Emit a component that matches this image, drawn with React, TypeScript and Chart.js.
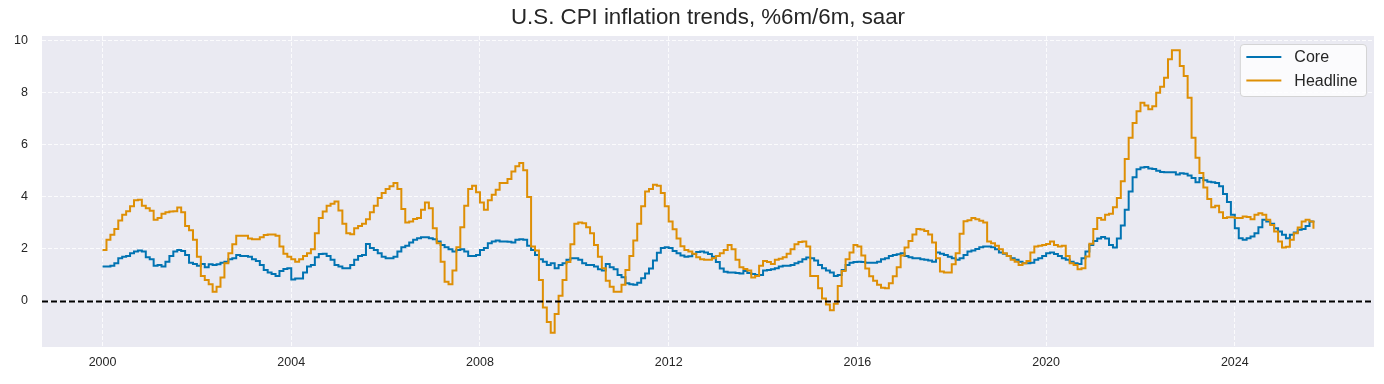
import React, { useEffect, useRef } from "react";
import { Chart, registerables } from "chart.js";

Chart.register(...registerables);

const TITLE = "U.S. CPI inflation trends, %6m/6m, saar";
const SERIES_NAMES = ["Core", "Headline"];
const START_YEAR = 2000; // monthly observations starting Jan 2000
const X_TICKS = [2000, 2004, 2008, 2012, 2016, 2020, 2024];
const Y_TICKS = [0, 2, 4, 6, 8, 10];

const CORE = [
  1.32, 1.32, 1.35, 1.45, 1.64, 1.7, 1.73, 1.83, 1.9, 1.94, 1.9, 1.68,
  1.6, 1.35, 1.38, 1.32, 1.51, 1.73, 1.9, 1.96, 1.92, 1.77, 1.47, 1.42,
  1.35, 1.42, 1.3, 1.41, 1.38, 1.41, 1.47, 1.51, 1.6, 1.64, 1.77, 1.73,
  1.73, 1.7, 1.6, 1.54, 1.38, 1.19, 1.09, 1.04, 0.96, 1.15, 1.23, 1.26,
  0.83, 0.86, 0.86, 1.09, 1.32, 1.38, 1.68, 1.8, 1.81, 1.73, 1.58, 1.38,
  1.32, 1.26, 1.26, 1.38, 1.58, 1.73, 1.77, 2.19, 2.03, 1.96, 1.83, 1.7,
  1.64, 1.64, 1.7, 1.9, 2.06, 2.12, 2.24, 2.35, 2.41, 2.45, 2.45, 2.41,
  2.37, 2.28, 2.15, 2.06, 1.99, 1.9, 1.96, 1.99, 1.9, 1.73, 1.73, 1.77,
  1.96, 2.03, 2.22, 2.28, 2.32, 2.28, 2.28, 2.27, 2.24, 2.35, 2.37, 2.35,
  2.12, 1.96, 1.77, 1.6, 1.51, 1.38, 1.45, 1.26, 1.38, 1.45, 1.58, 1.64,
  1.64, 1.58, 1.45, 1.38, 1.38, 1.32, 1.22, 1.17, 1.42, 1.3, 1.22, 1.0,
  0.91, 0.68, 0.64, 0.62, 0.7, 0.87, 1.06, 1.25, 1.55, 1.85, 2.03, 2.06,
  2.03, 1.92, 1.83, 1.75, 1.7, 1.72, 1.8, 1.88, 1.9, 1.86, 1.8, 1.7,
  1.5, 1.25, 1.12, 1.09, 1.09, 1.08, 1.06, 1.15, 1.08, 1.04, 1.0, 1.0,
  1.17, 1.19, 1.22, 1.26, 1.32, 1.35, 1.35, 1.38, 1.45, 1.51, 1.6, 1.67,
  1.64, 1.55, 1.38, 1.26, 1.17, 1.09, 0.96, 1.0, 1.19, 1.38, 1.47, 1.5,
  1.51, 1.5, 1.47, 1.47, 1.47, 1.51, 1.6, 1.64, 1.73, 1.77, 1.79, 1.83,
  1.73, 1.68, 1.64, 1.64, 1.6, 1.58, 1.55, 1.51, 1.86, 1.81, 1.77, 1.7,
  1.64, 1.58, 1.64, 1.77, 1.9, 1.94, 2.0, 2.06, 2.09, 2.09, 2.06, 1.99,
  1.86, 1.81, 1.73, 1.64, 1.58, 1.51, 1.45, 1.45, 1.47, 1.58, 1.64, 1.73,
  1.83, 1.86, 1.8, 1.73, 1.64, 1.58, 1.51, 1.45, 1.42, 1.64, 1.9, 2.15,
  2.3, 2.4, 2.46, 2.4, 2.15, 2.05, 2.4, 2.9, 3.5, 4.2, 4.75, 5.05,
  5.12, 5.14, 5.08, 5.06, 5.0, 4.95, 4.94, 4.94, 4.94, 4.85, 4.9, 4.88,
  4.81, 4.72, 4.55, 4.72, 4.63, 4.57, 4.55, 4.53, 4.4, 4.1, 3.8, 3.31,
  2.79, 2.41, 2.35, 2.41, 2.47, 2.6, 2.83, 3.12, 3.05, 2.96, 2.79, 2.67,
  2.54, 2.41, 2.54, 2.63, 2.73, 2.76, 2.88, 3.05, 3.08,
];

const HEADLINE = [
  1.96, 2.35, 2.54, 2.76, 3.09, 3.31, 3.44, 3.63, 3.86, 3.88, 3.65, 3.56,
  3.46, 3.12, 3.18, 3.35, 3.4, 3.43, 3.44, 3.59, 3.4, 2.88, 2.71, 2.35,
  1.7, 0.96, 0.81, 0.64, 0.36, 0.55, 0.9, 1.45, 1.83, 2.18, 2.5, 2.5,
  2.5, 2.4, 2.37, 2.37, 2.45, 2.53, 2.55, 2.55, 2.5, 2.09, 1.81, 1.7,
  1.6, 1.51, 1.6, 1.73, 1.83, 1.99, 2.6, 3.18, 3.43, 3.65, 3.73, 3.82,
  3.47, 2.96, 2.6, 2.56, 2.79, 2.88, 2.96, 3.14, 3.4, 3.65, 3.95, 4.14,
  4.3, 4.4, 4.53, 4.3, 3.53, 3.01, 3.05, 3.15, 3.18, 3.5, 3.78, 3.56,
  2.79, 2.22, 1.51, 0.74, 0.64, 1.17, 2.06, 2.83, 3.65, 4.3, 4.42, 4.17,
  3.78, 3.5, 3.86, 4.08, 4.27, 4.53, 4.53, 4.68, 4.97, 5.17, 5.29, 5.01,
  3.99, 2.09, 1.94, 0.81, -0.25, -0.8, -1.22, -0.5, 0.2, 0.81, 1.5, 2.18,
  2.96, 3.01, 2.98, 2.83, 2.6, 2.15, 1.7, 1.26, 0.78, 0.55, 0.36, 0.36,
  0.62, 1.19, 1.73, 2.32, 2.96, 3.63, 4.2, 4.3, 4.46, 4.42, 4.14, 3.63,
  3.05, 2.75, 2.4, 2.1, 1.96, 1.9, 1.81, 1.68, 1.6, 1.58, 1.58, 1.64,
  1.73, 1.83, 1.96, 2.15, 1.99, 1.58, 1.3, 1.23, 1.17, 0.9, 0.96, 1.35,
  1.54, 1.5, 1.42, 1.58, 1.62, 1.68, 1.81, 1.99, 2.18, 2.26, 2.28, 2.09,
  0.96, 0.96, 0.49, 0.1, -0.13, -0.35, -0.1, 0.58, 1.15, 1.6, 1.86, 2.15,
  2.09, 1.75, 1.25, 0.95, 0.78, 0.62, 0.51, 0.49, 0.68, 0.95, 1.3, 1.75,
  2.05, 2.3, 2.55, 2.76, 2.74, 2.69, 2.55, 2.24, 1.64, 1.13, 1.09, 1.09,
  1.41, 1.83, 2.58, 3.06, 3.1, 3.18, 3.14, 3.08, 3.01, 2.28, 2.22, 2.12,
  1.99, 1.83, 1.73, 1.58, 1.51, 1.38, 1.45, 1.54, 1.86, 2.09, 2.12, 2.15,
  2.19, 2.28, 2.15, 2.09, 2.12, 1.73, 1.45, 1.38, 1.22, 1.26, 1.71, 2.2,
  2.76, 3.18, 3.12, 3.31, 3.35, 3.6, 3.95, 4.59, 5.45, 6.26, 6.83, 7.28,
  7.6, 7.5, 7.35, 7.47, 7.99, 8.22, 8.56, 9.27, 9.62, 9.62, 9.01, 8.63,
  7.79, 6.26, 5.49, 4.91, 4.35, 3.91, 3.6, 3.65, 3.4, 3.18, 3.21, 3.21,
  3.18, 3.18, 3.24, 3.22, 3.14, 3.31, 3.37, 3.31, 3.12, 2.92, 2.67, 2.28,
  2.05, 2.08, 2.35, 2.6, 2.82, 3.05, 3.12, 3.05, 2.77,
];

const COLORS = ["#0173B2", "#DE8F05"];
const FONT = "'Liberation Sans', Arial, Helvetica, sans-serif";
const TEXT = "#262626";

const toPoints = (arr: number[]) =>
  arr.map((v, i) => ({ x: START_YEAR + i / 12, y: v }));

export default function App() {
  const ref = useRef<HTMLCanvasElement | null>(null);

  useEffect(() => {
    document.body.style.margin = "0";
    const canvas = ref.current;
    if (!canvas) return;

    const all = [...CORE, ...HEADLINE];
    const lo = Math.min(...all);
    const hi = Math.max(...all);
    const yPad = (hi - lo) * 0.05;
    const x0 = START_YEAR;
    const x1 = START_YEAR + (Math.max(CORE.length, HEADLINE.length) - 1) / 12;
    const xPad = (x1 - x0) * 0.05;

    const background = {
      id: "bg",
      beforeDraw(chart: any) {
        const { ctx, chartArea: a } = chart;
        ctx.save();
        ctx.fillStyle = "#ffffff";
        ctx.fillRect(0, 0, chart.width, chart.height);
        ctx.fillStyle = "#EAEAF2";
        ctx.fillRect(a.left, a.top, a.right - a.left, a.bottom - a.top);
        ctx.restore();
      },
    };

    const zeroLine = {
      id: "zeroLine",
      afterDatasetsDraw(chart: any) {
        const { ctx, chartArea: a, scales } = chart;
        const y = Math.round(scales.y.getPixelForValue(0)) + 0.5;
        ctx.save();
        ctx.strokeStyle = "#000000";
        ctx.lineWidth = 2;
        ctx.setLineDash([6, 3]);
        ctx.beginPath();
        ctx.moveTo(a.left, y);
        ctx.lineTo(a.right, y);
        ctx.stroke();
        ctx.restore();
      },
    };

    const titleAndLegend = {
      id: "titleAndLegend",
      afterDraw(chart: any) {
        const { ctx, chartArea: a } = chart;
        ctx.save();
        // title, centred over the plotting area
        ctx.font = `22.3px ${FONT}`;
        ctx.fillStyle = TEXT;
        ctx.textAlign = "center";
        ctx.textBaseline = "middle";
        ctx.fillText(TITLE, (a.left + a.right) / 2, 18);

        // legend box, upper right inside the axes
        ctx.font = `16px ${FONT}`;
        const tw = Math.max(...SERIES_NAMES.map((n) => ctx.measureText(n).width));
        const w = 6 + 35 + 13 + tw + 9;
        const h = 52;
        const right = a.right - 7.5;
        const left = right - w;
        const top = a.top + 8.5;
        const r = 3.5;
        ctx.beginPath();
        ctx.moveTo(left + r, top);
        ctx.lineTo(right - r, top);
        ctx.arcTo(right, top, right, top + r, r);
        ctx.lineTo(right, top + h - r);
        ctx.arcTo(right, top + h, right - r, top + h, r);
        ctx.lineTo(left + r, top + h);
        ctx.arcTo(left, top + h, left, top + h - r, r);
        ctx.lineTo(left, top + r);
        ctx.arcTo(left, top, left + r, top, r);
        ctx.closePath();
        ctx.fillStyle = "rgba(255,255,255,0.8)";
        ctx.fill();
        ctx.strokeStyle = "rgba(204,204,204,0.8)";
        ctx.lineWidth = 1;
        ctx.stroke();
        SERIES_NAMES.forEach((name, i) => {
          const yy = top + 12.5 + i * 23.5;
          ctx.strokeStyle = COLORS[i];
          ctx.lineWidth = 2;
          ctx.beginPath();
          ctx.moveTo(left + 6, yy);
          ctx.lineTo(left + 41, yy);
          ctx.stroke();
          ctx.fillStyle = TEXT;
          ctx.textBaseline = "middle";
          ctx.textAlign = "left";
          ctx.fillText(name, left + 54, yy + 1);
        });
        ctx.restore();
      },
    };

    const chart = new Chart(canvas, {
      type: "line",
      data: {
        datasets: [
          {
            label: SERIES_NAMES[0],
            data: toPoints(CORE),
            borderColor: COLORS[0],
            backgroundColor: COLORS[0],
            borderWidth: 2,
            pointRadius: 0,
            stepped: "before",
            order: 2,
          },
          {
            label: SERIES_NAMES[1],
            data: toPoints(HEADLINE),
            borderColor: COLORS[1],
            backgroundColor: COLORS[1],
            borderWidth: 2,
            pointRadius: 0,
            stepped: "before",
            order: 1,
          },
        ],
      },
      options: {
        animation: false,
        responsive: false,
        devicePixelRatio: 1,
        layout: { padding: { left: 0, right: 10, top: 36, bottom: 0 } },
        plugins: {
          legend: { display: false },
          tooltip: { enabled: false },
          title: { display: false },
        },
        scales: {
          x: {
            type: "linear",
            min: x0 - xPad,
            max: x1 + xPad,
            afterBuildTicks: (s: any) => {
              s.ticks = X_TICKS.map((v) => ({ value: v }));
            },
            afterFit: (s: any) => {
              s.height = 37;
            },
            ticks: {
              color: TEXT,
              font: { family: FONT, size: 12.5 },
              padding: 8,
              maxRotation: 0,
              autoSkip: false,
              callback: (v: any) => String(v),
            },
            grid: {
              color: "rgba(255,255,255,0.8)",
              lineWidth: 1,
              drawTicks: false,
            },
            border: { display: false, dash: [4, 2] },
          },
          y: {
            type: "linear",
            min: lo - yPad,
            max: hi + yPad,
            afterBuildTicks: (s: any) => {
              s.ticks = Y_TICKS.map((v) => ({ value: v }));
            },
            afterFit: (s: any) => {
              s.width = 42;
            },
            ticks: {
              color: TEXT,
              font: { family: FONT, size: 12.5 },
              padding: 14,
              callback: (v: any) => String(v),
            },
            grid: {
              color: "rgba(255,255,255,0.8)",
              lineWidth: 1,
              drawTicks: false,
            },
            border: { display: false, dash: [4, 2] },
          },
        },
      },
      plugins: [background, zeroLine, titleAndLegend],
    } as any);

    return () => chart.destroy();
  }, []);

  return (
    <div style={{ width: 1384, height: 384 }}>
      <canvas ref={ref} width={1384} height={384} style={{ display: "block" }} />
    </div>
  );
}
